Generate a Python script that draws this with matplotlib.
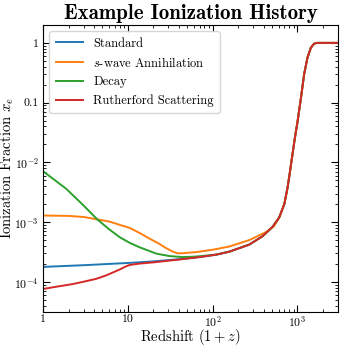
import numpy as np
import matplotlib
matplotlib.use('Agg')
import matplotlib.pyplot as plt
from matplotlib.ticker import FuncFormatter, LogLocator

plt.rcParams['font.family'] = 'serif'
plt.rcParams['font.serif'] = ['cmr10']
plt.rcParams['mathtext.fontset'] = 'cm'
plt.rcParams['axes.unicode_minus'] = False
plt.rcParams['axes.formatter.use_mathtext'] = True

# shared recombination part (1+z, x_e)
rz_hi = [610, 700, 765, 820, 875, 930, 1000, 1100, 1200, 1310, 1440, 1570, 1700, 3000]
xe_hi = [1.2e-3, 2.0e-3, 3.8e-3, 7.3e-3, 0.0138, 0.025, 0.047, 0.12, 0.30, 0.56, 0.83, 0.97, 1.0, 1.0]

# Standard
z_std = [1, 3, 10, 20, 31, 44, 70, 110, 157, 270, 387, 508] + rz_hi
xe_std = [1.78e-4, 1.9e-4, 2.07e-4, 2.2e-4, 2.32e-4, 2.42e-4, 2.6e-4, 2.85e-4, 3.2e-4, 4.2e-4, 5.8e-4, 8.3e-4] + xe_hi

# s-wave annihilation
z_swave = [1, 2, 3, 4.36, 6.1, 8, 10.5, 13.7, 18, 23, 28, 34, 38.7, 45, 64, 100, 157, 270, 425, 530] + rz_hi
xe_swave = [1.29e-3, 1.27e-3, 1.22e-3, 1.11e-3, 1.02e-3, 9.0e-4, 8.0e-4, 6.6e-4, 5.3e-4, 4.4e-4,
            3.7e-4, 3.2e-4, 3.0e-4, 3.02e-4, 3.15e-4, 3.45e-4, 3.9e-4, 5.0e-4, 6.8e-4, 8.6e-4] + xe_hi

# Decay
z_decay = [1, 1.88, 3, 4.36, 6, 8, 10.5, 13.7, 21.6, 31, 44, 60, 91, 110, 157, 270, 387, 508] + rz_hi
xe_decay = [7.1e-3, 3.6e-3, 1.9e-3, 1.11e-3, 7.6e-4, 5.6e-4, 4.5e-4, 3.8e-4, 2.97e-4, 2.7e-4, 2.6e-4,
            2.64e-4, 2.78e-4, 2.86e-4, 3.2e-4, 4.2e-4, 5.8e-4, 8.3e-4] + xe_hi

# Rutherford scattering
z_ruth = [1, 1.44, 2.25, 2.95, 4.2, 5.6, 8.0, 9.6, 10.5, 13.7, 20, 31, 44, 70, 110, 157, 270, 387, 508] + rz_hi
xe_ruth = [7.6e-5, 8.3e-5, 9.2e-5, 1.0e-4, 1.12e-4, 1.29e-4, 1.61e-4, 1.83e-4, 1.92e-4, 2.02e-4, 2.12e-4,
           2.27e-4, 2.4e-4, 2.6e-4, 2.85e-4, 3.2e-4, 4.2e-4, 5.8e-4, 8.3e-4] + xe_hi


def fmt_y(v, pos):
    if np.isclose(v, 1):
        return '1'
    if np.isclose(v, 0.1):
        return '0.1'
    return r'$10^{%d}$' % int(round(np.log10(v)))


def fmt_x(v, pos):
    if np.isclose(v, 1):
        return '1'
    if np.isclose(v, 10):
        return '10'
    return r'$10^{%d}$' % int(round(np.log10(v)))


fig = plt.figure(figsize=(3.42, 3.46), dpi=100)
ax = fig.add_axes([0.126, 0.099, 0.862, 0.829])

ax.loglog(z_std, xe_std, color='C0', lw=1.4, label='Standard')
ax.loglog(z_swave, xe_swave, color='C1', lw=1.4, label=r'$s$-wave Annihilation')
ax.loglog(z_decay, xe_decay, color='C2', lw=1.4, label='Decay')
ax.loglog(z_ruth, xe_ruth, color='C3', lw=1.4, label='Rutherford Scattering')

ax.set_xlim(1, 3000)
ax.set_ylim(3.16e-5, 2.0)

ax.xaxis.set_major_locator(LogLocator(base=10, numticks=10))
ax.yaxis.set_major_locator(LogLocator(base=10, numticks=10))
ax.xaxis.set_major_formatter(FuncFormatter(fmt_x))
ax.yaxis.set_major_formatter(FuncFormatter(fmt_y))
ax.tick_params(which='both', direction='in', top=True, right=True, labelsize=8.5, pad=3)
ax.tick_params(axis='x', which='both', pad=2)
ax.tick_params(which='major', length=5, width=0.8)
ax.tick_params(which='minor', length=2.5, width=0.6)

ax.set_xlabel(r'Redshift $(1+z)$', fontsize=10.5, va='center')
ax.set_ylabel(r'Ionization Fraction $x_e$', fontsize=10.5, va='center')
ax.xaxis.set_label_coords(0.5, -0.088)
ax.yaxis.set_label_coords(-0.12, 0.5)
ax.set_title('Example Ionization History', fontsize=15, fontfamily='cmb10', pad=4)

ax.legend(loc='upper left', fontsize=9, handlelength=2.2, borderpad=0.5, labelspacing=0.5)

fig.savefig('out.png', dpi=100)
